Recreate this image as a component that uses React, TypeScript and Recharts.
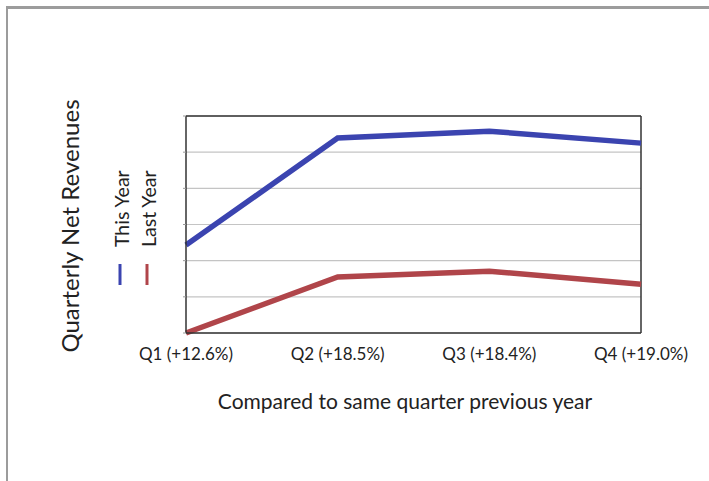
import React from 'react';
import { LineChart, Line, XAxis, YAxis, CartesianGrid, ReferenceLine, Legend } from 'recharts';

// quarters with growth vs previous year
const quarters = ['Q1 (+12.6%)', 'Q2 (+18.5%)', 'Q3 (+18.4%)', 'Q4 (+19.0%)'];
const thisYear = [2.43, 5.39, 5.58, 5.25];
const lastYear = [0, 1.55, 1.71, 1.35];
const yTicks = [0, 1, 2, 3, 4, 5, 6];
const seriesOrder = ['This Year', 'Last Year'];

const data = quarters.map((q, i) => ({ name: q, thisYear: thisYear[i], lastYear: lastYear[i] }));

const FONT = 'Lato, "Open Sans", sans-serif';

const RotatedLegend = (props: any) => {
  const items = [...(props.payload || [])].sort(
    (a: any, b: any) => seriesOrder.indexOf(a.value) - seriesOrder.indexOf(b.value)
  );
  return (
    <svg width={60} height={140}>
      {items.map((p: any, i: number) => {
        const x = 21 + i * 27;
        return (
          <g key={p.value}>
            <text
              x={x}
              y={87}
              transform={`rotate(-90 ${x} 87)`}
              fontSize={19.5}
              fontFamily={FONT}
              fill="#222"
              dominantBaseline="central"
            >
              {p.value}
            </text>
            <line x1={x - 1} x2={x - 1} y1={104} y2={125} stroke={p.color} strokeWidth={3} />
          </g>
        );
      })}
    </svg>
  );
};

const App: React.FC = () => {
  return (
    <div style={{ position: 'absolute', left: 0, top: 0, width: 709, height: 481, background: '#fff' }}>
      <div
        style={{
          position: 'absolute',
          left: 6,
          top: 6,
          width: 709,
          height: 481,
          borderTop: '3px solid #9c9c9c',
          borderLeft: '2px solid #9c9c9c',
        }}
      />
      <div
        style={{
          position: 'absolute',
          left: 70 - 140,
          top: 226 - 16,
          width: 280,
          height: 32,
          lineHeight: '32px',
          textAlign: 'center',
          transform: 'rotate(-90deg)',
          fontFamily: FONT,
          fontSize: 24,
          color: '#222',
        }}
      >
        Quarterly Net Revenues
      </div>
      <div
        style={{
          position: 'absolute',
          left: 0,
          top: 388,
          width: 810,
          textAlign: 'center',
          fontFamily: FONT,
          fontSize: 21,
          color: '#222',
        }}
      >
        Compared to same quarter previous year
      </div>
      <LineChart
        width={709}
        height={481}
        data={data}
        margin={{ top: 116, right: 68, left: 176, bottom: 118 }}
        style={{ position: 'absolute', left: 0, top: 0 }}
      >
        <CartesianGrid vertical={false} stroke="#c4c4c4" strokeWidth={1.2} />
        <XAxis
          dataKey="name"
          interval={0}
          height={30}
          tickLine={false}
          tickSize={0}
          tickMargin={15}
          axisLine={{ stroke: '#333', strokeWidth: 1.5 }}
          tick={{ fontSize: 17, fill: '#222', fontFamily: FONT }}
        />
        <YAxis
          width={10}
          domain={[0, 6]}
          ticks={yTicks}
          tickFormatter={() => ''}
          tickSize={3}
          tickLine={{ stroke: '#999' }}
          axisLine={{ stroke: '#333', strokeWidth: 1.5 }}
        />
        <ReferenceLine y={6} stroke="#333" strokeWidth={1.5} />
        <ReferenceLine x={quarters[3]} stroke="#333" strokeWidth={1.5} />
        <Legend
          layout="horizontal"
          verticalAlign="middle"
          align="center"
          content={RotatedLegend}
          wrapperStyle={{ position: 'absolute', left: 100, top: 160, width: 60, height: 140 }}
        />
        <Line
          dataKey="thisYear"
          name="This Year"
          stroke="#3b44b0"
          strokeWidth={5.5}
          dot={false}
          isAnimationActive={false}
        />
        <Line
          dataKey="lastYear"
          name="Last Year"
          stroke="#b0454a"
          strokeWidth={5.5}
          dot={false}
          isAnimationActive={false}
        />
      </LineChart>
    </div>
  );
};

export default App;
